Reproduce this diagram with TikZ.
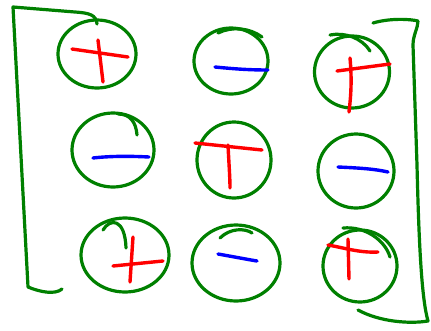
\documentclass[tikz,border=0pt]{standalone}
\usetikzlibrary{shapes.geometric}
\definecolor{pen}{RGB}{0,128,0}
\tikzset{
  ring/.style={ellipse,draw=pen,line width=3.2pt,inner sep=0pt},
  gstroke/.style={draw=pen,line width=3.2pt,line cap=round,line join=round},
  plusline/.style={draw=red,line width=3.4pt,line cap=round},
  minusline/.style={draw=blue,line width=3.4pt,line cap=round}
}
\begin{document}
\begin{tikzpicture}[x=1pt,y=-1pt]
\useasboundingbox (0,0) rectangle (431,330);
% brackets
\draw[gstroke] (97,24) .. controls (96,15) and (90,13) .. (75,12) -- (13,7) -- (28,287) .. controls (40,292) and (55,295) .. (62,289);
\draw[gstroke] (373,23) .. controls (390,18) and (410,19) .. (418,21) .. controls (418,28) and (413,35) .. (413,45) -- (417,165) .. controls (419,250) and (422,300) .. (428,321) .. controls (410,324) and (380,322) .. (358,310);
% row 1
\node[ring,minimum width=78pt,minimum height=68pt] (c11) at (97,54) {};
\draw[plusline] (72,49) -- (128,57);
\draw[plusline] (98,40) -- (103,82);
\node[ring,minimum width=74pt,minimum height=66pt] (c12) at (231,61) {};
\draw[minusline] (215,67) .. controls (235,69) and (250,70) .. (268,70);
\draw[gstroke] (218,33) .. controls (232,26) and (250,28) .. (262,37);
\node[ring,minimum width=75pt,minimum height=72pt] (c13) at (352,72) {};
\draw[plusline] (337,71) -- (390,64);
\draw[plusline] (350,58) .. controls (352,80) and (351,95) .. (349,112);
\draw[gstroke] (330,35) .. controls (345,32) and (362,38) .. (370,51);
% row 2
\node[ring,minimum width=82pt,minimum height=74pt] (c21) at (113,150) {};
\draw[minusline] (93,158) .. controls (110,156) and (130,156) .. (149,157);
\draw[gstroke] (118,114) .. controls (130,114) and (136,122) .. (137,135);
\node[ring,minimum width=74pt,minimum height=76pt] (c22) at (234,160) {};
\draw[plusline] (195,143) -- (262,150);
\draw[plusline] (228,145) .. controls (229,165) and (230,178) .. (230,188);
\node[ring,minimum width=76pt,minimum height=74pt] (c23) at (356,171) {};
\draw[minusline] (338,167) .. controls (360,168) and (375,169) .. (388,172);
% row 3
\node[ring,minimum width=88pt,minimum height=74pt] (c31) at (125,255) {};
\draw[plusline] (113,266) -- (163,261);
\draw[plusline] (133,237) -- (130,282);
\draw[gstroke] (103,230) .. controls (110,218) and (125,218) .. (126,248);
\node[ring,minimum width=88pt,minimum height=76pt] (c32) at (236,263) {};
\draw[minusline] (218,254) .. controls (235,257) and (245,259) .. (257,261);
\draw[gstroke] (220,238) .. controls (230,228) and (245,228) .. (252,233);
\node[ring,minimum width=74pt,minimum height=72pt] (c33) at (360,266) {};
\draw[plusline] (328,245) .. controls (345,248) and (360,253) .. (378,252);
\draw[plusline] (348,239) -- (349,279);
\draw[gstroke] (343,228) .. controls (365,226) and (385,240) .. (390,257);
\end{tikzpicture}
\end{document}
